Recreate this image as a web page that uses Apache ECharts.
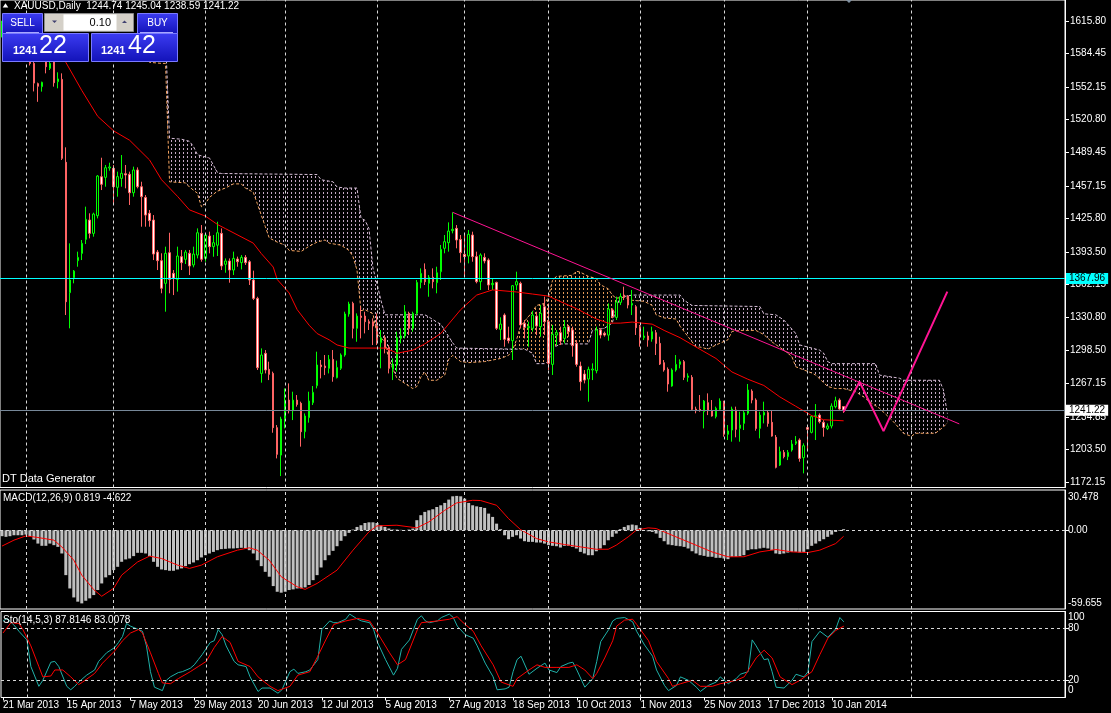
<!DOCTYPE html>
<html><head><meta charset="utf-8">
<script src="https://cdn.jsdelivr.net/npm/echarts@6.0.0/dist/echarts.min.js"></script>
<style>html,body{margin:0;padding:0;background:#000;overflow:hidden}#c{width:1111px;height:713px}</style>
</head><body><div id="c"></div>
<script>
// ---- data ----
const tickLabels = ['21 Mar 2013','15 Apr 2013','7 May 2013','29 May 2013','20 Jun 2013','12 Jul 2013','5 Aug 2013','27 Aug 2013','18 Sep 2013','10 Oct 2013','1 Nov 2013','25 Nov 2013','17 Dec 2013','10 Jan 2014'];
const priceTicks = [1615.80,1584.45,1552.15,1520.80,1489.45,1457.15,1425.80,1393.50,1362.15,1330.80,1298.50,1267.15,1234.85,1203.50,1172.15];
const macdTicks = [30.478,0,-59.655];
const stochInnerTicks = [80,20];
const stochEdgeTicks = [100,0];
// [open, high, low, close]
const candles = [
[1606,1616,1600,1613],[1613,1618,1603,1607],[1607,1615,1598,1604],[1604,1608,1590,1596],[1596,1608,1592,1606],
[1606,1608,1592,1596],[1596,1603,1585,1598],[1598,1601,1573,1575],[1575,1579,1548,1556],[1555.5,1556.5,1538,1553],
[1552.6,1557.4,1547.8,1556.8],[1582,1586,1565.4,1571.8],[1570.2,1576.6,1568.6,1575],[1586,1588,1552.6,1556.4],[1557.4,1566.4,1551,1560],
[1559.6,1565.4,1482,1483.6],[1479.8,1494.2,1332.8,1345.6],[1354.3,1401.8,1320,1366.5],[1368.7,1376.1,1363.3,1375.1],[1385.1,1393.8,1379.3,1388.3],
[1392.1,1405,1385.7,1401.8],[1405.6,1437.1,1401.1,1424.9],[1424.2,1430.7,1406.6,1411.4],[1411.4,1431.3,1408.2,1430],[1428.4,1467.5,1425.8,1466.6],
[1465.9,1484.2,1453.1,1458.6],[1465.3,1477.2,1456.3,1474.6],[1474.3,1479.4,1471.7,1475.3],[1474,1477.2,1438.7,1456.3],[1455.7,1470.8,1446.7,1466],
[1464.3,1486.8,1456.3,1469.2],[1468.8,1477.2,1454.7,1467.6],[1468.2,1470.8,1438.7,1450.5],[1450.5,1475.6,1446.7,1472.4],[1472.4,1474.9,1454.7,1456.3],
[1456.3,1461.1,1417.8,1446.7],[1446,1448.3,1417.8,1429],[1430.7,1433.9,1417.8,1423.6],[1424.2,1429,1385.7,1391.5],[1393.4,1395.4,1376.1,1385.1],
[1385.1,1392.2,1353.7,1358.5],[1363.3,1398.6,1336,1392.2],[1392.8,1412,1353.7,1367.1],[1372.9,1376.1,1352,1368.1],[1367.1,1398.6,1355.3,1389.6],
[1389,1395.4,1376.1,1383.2],[1386.4,1395.4,1381.9,1393.4],[1392.2,1395.4,1371.3,1380],[1381,1398.6,1378.7,1391.5],[1390.5,1416.2,1387.3,1412],
[1411.4,1419.4,1384.1,1386.4],[1387.3,1411.4,1384.1,1409.8],[1408.8,1413,1392.2,1398.6],[1398.6,1409.8,1388.9,1402.4],[1400,1422.6,1389.6,1412],
[1411.4,1416.2,1376.1,1380],[1381.6,1387.3,1373.5,1384.8],[1384.8,1387.3,1363.9,1376.1],[1376.1,1393.8,1371.3,1387.3],[1386.7,1389,1379.3,1384.1],
[1383.2,1390.5,1376.7,1388.3],[1388.3,1390.5,1381,1383.2],[1384.1,1385.7,1361.7,1366.5],[1366.5,1375.5,1347.2,1348.8],[1348.8,1350.4,1279.9,1282.1],
[1276.6,1300.7,1267.7,1294.3],[1295.9,1299.1,1276.6,1279.9],[1280.5,1287.9,1270.2,1275.7],[1276.6,1278.3,1219.5,1224.4],[1224.4,1226.9,1194.8,1198.7],
[1198,1234.9,1177.8,1232.7],[1233.3,1262.2,1223.7,1250.9],[1250.9,1267,1238.1,1240.7],[1240.7,1259,1231.7,1250.9],[1250.9,1255.8,1244.6,1246.8],
[1247.8,1249.4,1206.1,1220.5],[1220.5,1238.1,1214.1,1235.6],[1234,1259,1229.2,1250],[1248.4,1264.5,1246.2,1258.4],[1264.8,1297.5,1262.2,1284.7],
[1284.7,1289.5,1271.8,1283.1],[1283.7,1294.3,1275,1282.1],[1281.5,1294.3,1276.6,1290.1],[1290.1,1299.1,1268.6,1273.4],[1272.5,1288.9,1271.8,1282.4],
[1281.5,1295.9,1279.9,1294.3],[1294.3,1336,1292.7,1333.8],[1333.8,1345.6,1331.2,1343.4],[1344,1345.6,1310.3,1320],[1320,1334.4,1307.1,1331.8],
[1331.8,1340.8,1310.3,1330.5],[1331.8,1336,1315.1,1326.4],[1326.4,1328.6,1318.4,1324.8],[1326.4,1329.6,1303.9,1322.2],[1322.2,1334.4,1303.9,1308.1],
[1306.2,1318.4,1281.5,1311],[1311,1313.5,1295.9,1300.7],[1301.7,1303.9,1276.6,1281.5],[1280.5,1291.1,1270.2,1285.6],[1284.7,1316.7,1278.3,1311.3],
[1310.3,1320,1305.5,1312.6],[1312.6,1342.4,1310.3,1336],[1334.4,1336,1313.5,1320],[1320,1336,1316.7,1334.4],[1334.4,1366.5,1332.8,1364.2],
[1364.2,1377.7,1358.5,1372.9],[1376.7,1382.5,1361.7,1364.9],[1363.3,1371.3,1350.4,1369.1],[1369.1,1377.7,1358.5,1364.9],[1363.9,1379.3,1353.7,1373.5],
[1374.5,1400.2,1366.5,1396],[1397,1409.8,1392.2,1403.4],[1402.4,1422,1393.8,1413.6],[1414,1431.6,1411.4,1415.3],[1416.2,1419.4,1397,1405],
[1405.6,1409.8,1383.2,1392.8],[1391.2,1411.4,1371.3,1389],[1389.6,1414.6,1382.5,1410.5],[1409.8,1413,1384.1,1389],[1389,1393.8,1363.3,1364.9],
[1364.9,1392.2,1356.9,1390.6],[1388.3,1392.2,1382.5,1384.8],[1385.7,1387.3,1356.9,1361.7],[1362,1368.1,1356.9,1363.3],[1364.2,1364.9,1318.4,1320],
[1319,1330.6,1308.7,1324.1],[1332.8,1334.4,1302.3,1309.4],[1310.7,1321.6,1305.5,1308.1],[1308.1,1361.7,1289.5,1361],[1361.7,1374.5,1356.9,1364.9],
[1363.3,1364.9,1320,1323.2],[1324.8,1328,1310.3,1320.9],[1320.6,1326.4,1302.3,1321.6],[1320,1336.7,1316.8,1332.8],[1331.8,1336,1313.5,1322.2],
[1321.6,1342.4,1311.9,1334.4],[1340.8,1350.5,1313.5,1326.4],[1326.4,1344,1279.9,1286.3],[1285.3,1323.2,1275.1,1314.2],[1313.5,1318.4,1303.9,1315.8],
[1315.8,1321.6,1303.9,1307.8],[1310.3,1328,1305.5,1320.9],[1321.6,1323.2,1311.9,1316.8],[1318.4,1321.6,1292.7,1303.3],[1305.5,1308.7,1283.1,1285.3],
[1283.7,1287.9,1260,1268.6],[1276,1279.9,1267,1270.2],[1271.2,1283.1,1249.4,1280.5],[1279.9,1286.3,1270.2,1280.8],[1279.2,1321.6,1276.7,1318.4],
[1318.4,1320,1310.3,1313.5],[1315.2,1316.8,1312,1313.5],[1313.5,1344,1308.1,1338.6],[1337.6,1339.2,1329.6,1331.2],[1330.5,1350.5,1328,1345.3],
[1345,1353.7,1342.4,1350.5],[1352,1360.1,1347.2,1349.8],[1351.1,1352,1339.2,1342.4],[1342.4,1356.9,1332.8,1344],[1340.8,1342.4,1313.6,1320.6],
[1321.6,1323.2,1302.3,1312],[1311,1321.6,1308.7,1312.6],[1312.6,1316.8,1302.3,1308.7],[1309.7,1321.6,1307.1,1316.8],[1315.8,1318.4,1294.3,1305.5],
[1305.5,1311.9,1284.7,1285.6],[1286.9,1289.5,1278.3,1279.9],[1280.5,1282.4,1259,1266.4],[1264.5,1281.5,1263.8,1279.9],[1279.9,1294.3,1278.3,1285.3],
[1285.3,1290.1,1281.5,1287.9],[1287.9,1289.5,1270.2,1272.8],[1272.8,1276.7,1268.6,1274.1],[1272.8,1275,1240.7,1242],[1242.3,1244.6,1238.2,1240.7],
[1242,1255.8,1239.8,1240.7],[1239.8,1251,1223.7,1250],[1248.4,1257.4,1236.5,1240.7],[1240.4,1251,1235,1235.6],[1235,1244.6,1233.3,1243],
[1242,1252.6,1240.7,1250],[1248.8,1250.3,1215.7,1218],[1218,1226.9,1212.5,1221.2],[1222.1,1244.6,1210.9,1242.3],[1241.4,1244.6,1215.1,1222.8],
[1223.7,1239.8,1210.9,1226.9],[1228.5,1241.4,1222.1,1238.8],[1238.2,1266.4,1236.5,1260.6],[1259.6,1261.3,1247.8,1251],[1251,1252.6,1221.5,1223.7],
[1223.7,1239.8,1214.1,1236.5],[1236.5,1249.4,1228.5,1239.1],[1238.8,1241.4,1225.3,1228.5],[1229.5,1241.4,1215.7,1216.3],[1215.1,1217.3,1185.2,1186.2],
[1188.4,1206.1,1187.5,1201.3],[1200.6,1202.9,1194.8,1196.5],[1196.5,1202.9,1193.2,1200.6],[1202.9,1212.5,1201.3,1208.6],[1209.3,1216.3,1207.7,1210.9],
[1212.5,1214.1,1191.6,1194.8],[1195.5,1209.3,1180.4,1207],[1224.5,1225,1203,1222.8],[1219.9,1236.5,1218.9,1235],[1235,1247.1,1212.5,1235.9],
[1236.5,1238.2,1228.5,1230.1],[1229.5,1231.7,1215.7,1224.6],[1223.7,1228.5,1222.1,1226],[1226,1247.8,1223.7,1245.2],[1244.6,1254.2,1243,1250.3],
[1251,1252.6,1241.4,1242.3],[1244.74,1245.04,1238.59,1241.22]
];
// red moving line: [bar, price]
const maLine = [[14,1590],[16,1576],[20,1549],[24,1524],[28,1510],[32,1501],[37,1482],[40,1463],[44,1447],[47,1434],[51,1428],[54,1420],[56,1416],[63,1402],[65,1392],[68,1379],[69,1367],[72,1354],[74,1338],[77,1323],[79,1315],[82,1309],[84,1304],[86,1302],[87,1301],[96,1301],[98,1298],[99,1296],[103,1299],[104,1301],[106,1305],[110,1315],[115,1338],[119,1352],[123,1357],[129,1355],[133,1353],[137,1351],[141,1344],[144,1339],[149,1329],[152,1325],[155,1325],[158,1326],[163,1324],[166,1318],[170,1311],[174,1302],[179,1291],[183,1278],[187,1271],[191,1265],[195,1254],[199,1245],[203,1236],[206,1232],[211,1231]];
const spanA = [[33,1590],[37,1576],[40,1575],[41,1575],[42,1461],[46,1460],[47,1456],[49,1450],[50,1437],[51,1440],[52,1446],[54,1452],[56,1455],[58,1459],[60,1459],[61,1455],[63,1451],[64,1440],[66,1418],[67,1407],[69,1403],[71,1400],[72,1395],[75,1394],[77,1399],[79,1403],[81,1405],[82,1402],[85,1400],[87,1395],[88,1389],[89,1376],[90,1337],[91,1338],[93,1334],[94,1315],[96,1307],[97,1290],[98,1281],[99,1272],[101,1267],[103,1262],[104,1264],[105,1273],[106,1278],[107,1270],[109,1270],[111,1275],[112,1290],[113,1294],[115,1288],[117,1287],[121,1288],[125,1291],[127,1294],[128,1299],[129,1309],[130,1322],[133,1336],[134,1342],[136,1344],[137,1350],[138,1366],[139,1370],[143,1371],[144,1375],[145,1374],[147,1370],[149,1368],[150,1362],[152,1358],[153,1352],[154,1349],[156,1350],[158,1347],[161,1346],[163,1342],[164,1333],[166,1330],[169,1329],[170,1322],[172,1312],[174,1302],[175,1302],[177,1300],[179,1304],[182,1309],[183,1317],[185,1318],[189,1318],[191,1314],[193,1307],[196,1299],[198,1293],[199,1283],[203,1277],[204,1275],[207,1264],[209,1262],[211,1262],[214,1259],[216,1254],[218,1248],[220,1243],[223,1232],[224,1228],[226,1219],[228,1216],[229,1219],[234,1219],[236,1225],[237,1229]];
const spanB = [[33,1600],[41,1600],[42,1503],[45,1502],[47,1500],[48,1495],[49,1487],[52,1484],[53,1477],[54,1470],[55,1469],[79,1468],[80,1463],[83,1461],[84,1456],[86,1455],[89,1455],[90,1426],[91,1424],[92,1416],[93,1378],[94,1363],[95,1347],[96,1333],[106,1333],[107,1331],[109,1326],[110,1324],[112,1312],[113,1306],[114,1301],[128,1300],[131,1300],[133,1296],[134,1286],[136,1286],[137,1288],[138,1301],[140,1305],[147,1305],[148,1318],[151,1320],[153,1325],[154,1340],[155,1350],[158,1352],[170,1352],[171,1347],[173,1342],[190,1341],[191,1334],[194,1333],[196,1328],[199,1315],[200,1304],[205,1299],[206,1296],[207,1288],[208,1286],[219,1286],[220,1275],[225,1272],[226,1270],[235,1270],[236,1261],[237,1238]];
const macdHist = [
-4.5,-5.0,-4.5,-3.8,-3.8,-3.8,-3.3,-4.5,-7.0,-10.1,
-11.8,-11.8,-10.1,-11.3,-12.6,-17.6,-34.0,-44.1,-50.9,-54.1,
-55.4,-53.4,-51.6,-49.1,-45.3,-40.3,-35.7,-34.0,-30.2,-27.7,
-23.9,-22.1,-21.4,-19.6,-17.1,-17.1,-17.6,-19.6,-23.9,-27.7,
-29.7,-30.2,-30.7,-30.7,-29.7,-28.9,-27.2,-25.7,-24.4,-22.7,
-20.6,-18.9,-17.6,-16.4,-15.1,-14.3,-14.1,-13.8,-13.8,-13.6,
-13.3,-13.6,-15.1,-17.6,-22.7,-27.2,-31.5,-35.2,-42.3,-46.6,
-47.3,-46.6,-45.3,-44.8,-44.1,-44.1,-43.3,-41.5,-37.8,-34.0,
-28.2,-22.7,-18.9,-15.6,-12.1,-8.0,-4.5,-2.0,0.5,2.5,
3.8,5.5,6.0,6.0,5.5,3.8,2.5,1.3,0.5,0.5,
0.3,0.2,0.5,1.3,7.6,11.4,13.9,15.1,15.9,17.6,
18.9,20.7,23.2,25.7,26.0,25.7,23.9,20.7,18.9,18.1,
17.6,16.9,12.6,10.1,5.0,0.8,-3.8,-6.8,-5.0,-3.8,
-6.3,-8.3,-8.8,-8.8,-9.3,-9.3,-10.1,-11.3,-11.8,-12.1,
-13.1,-11.8,-11.8,-12.6,-13.8,-16.4,-17.6,-18.9,-18.9,-15.9,
-13.8,-11.3,-7.6,-5.0,-2.5,0.8,2.5,3.8,4.3,3.8,
1.8,-0.1,-0.8,-1.3,-2.5,-5.8,-8.3,-10.8,-11.3,-11.8,
-12.1,-12.6,-13.8,-15.9,-17.6,-18.9,-19.4,-20.1,-20.1,-20.9,
-20.9,-21.4,-21.9,-20.1,-20.1,-19.6,-18.9,-15.1,-14.4,-14.4,
-13.8,-13.3,-13.8,-15.1,-17.6,-18.1,-17.6,-16.9,-16.4,-16.4,
-16.9,-16.4,-14.4,-11.8,-10.1,-8.3,-6.8,-5.0,-3.3,-1.3,
-0.5,0.82];
const macdSignal = [[0,-12],[3,-7.5],[6,-4.3],[9,-5.5],[13,-7.5],[15,-12.6],[18,-22.7],[20,-34],[23,-45],[25,-50],[28,-44],[30,-34],[34,-24],[37,-19.6],[40,-21.4],[44,-26.4],[47,-28.9],[50,-26.4],[54,-20.1],[59,-15.1],[62,-13.3],[64,-15.1],[67,-22.7],[70,-35.2],[74,-42.8],[76,-44.8],[79,-40.3],[84,-30.2],[88,-15.1],[92,-1.2],[94,3.3],[99,3.8],[104,1.8],[107,6.3],[111,15.1],[114,20.7],[118,22.7],[120,22.5],[124,18.9],[127,8.8],[130,0.5],[134,-6.3],[137,-8.8],[141,-10.8],[145,-12.6],[149,-14.4],[152,-14.4],[154,-11.3],[157,-5],[159,0],[162,1.8],[164,1.3],[167,-2.5],[170,-6.3],[174,-11.3],[178,-16.4],[182,-20.1],[186,-20.1],[190,-16.4],[194,-14.6],[198,-16.4],[202,-16.9],[205,-15.1],[209,-10.1],[211,-4.6]];
const stochMain = [[0,89],[1,92],[3,83],[4,77],[6,67],[7,36],[9,13],[10,20],[12,41],[13,42],[14,36],[16,13],[17,9],[18,13],[19,18],[21,26],[23,32],[24,42],[26,52],[28,58],[29,64],[30,71],[31,86],[32,83],[34,79],[35,77],[36,60],[37,30],[38,12],[40,8],[41,20],[42,24],[44,29],[45,30],[47,34],[48,38],[49,44],[50,50],[52,64],[53,66],[54,79],[55,73],[56,60],[58,42],[59,38],[61,36],[62,24],[64,7],[65,11],[67,11],[69,5],[70,9],[72,30],[73,33],[74,28],[76,30],[77,32],[79,44],[80,79],[82,89],[83,87],[84,87],[86,91],[87,97],[89,91],[90,89],[92,87],[93,79],[94,64],[96,44],[98,26],[99,34],[100,56],[102,67],[103,79],[104,91],[105,95],[106,89],[107,87],[109,89],[110,93],[112,97],[113,93],[114,83],[116,73],[118,69],[119,60],[121,40],[123,24],[124,9],[126,10],[127,12],[128,30],[129,44],[130,48],[132,27],[134,34],[136,40],[137,32],[139,29],[140,36],[142,40],[143,41],[144,32],[146,12],[148,22],[149,42],[150,65],[152,79],[153,89],[154,92],[156,93],[158,88],[159,77],[161,61],[163,48],[164,32],[166,14],[167,8],[169,14],[170,24],[172,20],[174,12],[175,7],[177,14],[179,18],[180,24],[182,16],[184,22],[185,27],[187,30],[188,67],[189,60],[191,44],[192,45],[193,30],[194,12],[196,11],[198,20],[199,27],[201,24],[202,30],[203,65],[205,77],[207,70],[209,80],[210,93],[211,88]];
const stochSignal = [[0,75],[2,87],[4,86],[5,79],[7,60],[9,36],[10,24],[12,25],[13,32],[15,32],[17,24],[19,15],[20,18],[23,28],[25,40],[28,54],[30,66],[32,75],[34,79],[35,75],[37,52],[39,28],[40,17],[42,16],[44,22],[47,30],[49,36],[51,42],[53,58],[55,71],[57,64],[59,42],[62,36],[64,24],[67,13],[69,8],[72,13],[74,26],[77,30],[79,48],[81,67],[83,85],[86,89],[89,92],[92,89],[94,75],[97,52],[99,38],[101,44],[104,79],[105,87],[109,89],[112,91],[114,94],[115,89],[118,77],[120,60],[123,38],[125,18],[128,13],[129,22],[132,32],[134,38],[136,35],[139,35],[142,35],[144,38],[146,32],[148,22],[149,28],[151,46],[153,66],[154,83],[156,90],[158,91],[159,85],[162,66],[164,42],[167,22],[168,13],[170,16],[173,20],[175,13],[178,13],[180,16],[184,20],[186,24],[189,46],[191,55],[193,46],[195,24],[198,15],[200,20],[203,30],[205,50],[207,69],[209,78],[211,83]];
const trendLine = [[113,1431.6],[240,1228]];
const projection = [[211,1239.7],[215,1268.6],[221,1221.1],[237,1355.3]];
const vGrid = [6,28,51,71,94,116,137,160,181,202,228];
const levelPrice = 1367.96;
const bidPrice = 1241.22;

// ---- chart ----
const N = 267;
const cats = Array.from({length: N}, (_, k) => String(k));
const FONT = 'Liberation Sans, Arial, sans-serif';

function hatch(color) {
  const c = document.createElement('canvas');
  c.width = 4; c.height = 4;
  const g = c.getContext('2d');
  g.fillStyle = color;
  g.fillRect(3, 0, 1, 2);
  return {image: c, repeat: 'repeat'};
}
function cloudSeries(a, b, color) {
  return {
    type: 'custom', xAxisIndex: 0, yAxisIndex: 0, silent: true, clip: true, z: 1,
    data: [[0, 1400]],
    renderItem: (params, api) => {
      const pts = [];
      a.forEach(p => pts.push(api.coord(p)));
      for (let j = b.length - 1; j >= 0; j--) pts.push(api.coord(b[j]));
      return {type: 'polygon', shape: {points: pts}, style: {fill: hatch(color)}};
    }
  };
}
const inRange = (arr, lo, hi) => arr.filter(p => p[0] >= lo && p[0] <= hi);

const isTick = idx => idx % 16 === 0 && idx / 16 < tickLabels.length;
const vLineData = vGrid.map(k => ({xAxis: k}));
const vMark = {silent: true, symbol: ['none', 'none'], label: {show: false},
  lineStyle: {color: '#d8d8d8', type: [3, 3], width: 1}, data: vLineData};

const xAxes = [0, 1, 2].map(g => ({
  type: 'category', gridIndex: g, data: cats, boundaryGap: true,
  axisLine: {show: false, onZero: false}, splitLine: {show: false},
  axisTick: {show: g === 2, interval: isTick, alignWithLabel: true, length: 3, lineStyle: {color: '#fff'}},
  axisLabel: {show: g === 2, interval: isTick, formatter: (v, idx) => tickLabels[idx / 16] || '',
    align: 'left', color: '#fff', fontSize: 10, fontFamily: FONT, margin: 3}
}));

const yBase = {type: 'value', position: 'right', splitLine: {show: false},
  axisLine: {show: true, onZero: false, lineStyle: {color: '#fff'}}};
const edgeRich = (dn, up) => ({dn: {padding: [dn, 0, 0, 0], color: '#fff', fontSize: 10}, up: {padding: [0, 0, up, 0], color: '#fff', fontSize: 10}});

const option = {
  animation: false,
  backgroundColor: '#000',
  textStyle: {fontFamily: FONT},
  grid: [
    {left: -3, width: 1068, top: 0, height: 487.5, show: true, borderColor: '#fff', borderWidth: 1},
    {left: -3, width: 1068, top: 490, height: 119, show: true, borderColor: '#fff', borderWidth: 1},
    {left: -3, width: 1068, top: 611.5, height: 86, show: true, borderColor: '#fff', borderWidth: 1}
  ],
  xAxis: xAxes,
  yAxis: [
    Object.assign({}, yBase, {gridIndex: 0, min: 1166.8, max: 1636.0,
      axisTick: {show: true, customValues: priceTicks, length: 4, lineStyle: {color: '#fff'}},
      axisLabel: {customValues: priceTicks, formatter: v => v.toFixed(2), color: '#fff', fontSize: 10, margin: 5}}),
    Object.assign({}, yBase, {gridIndex: 1, min: -59.655, max: 30.478,
      axisTick: {show: true, customValues: [0], length: 4, lineStyle: {color: '#fff'}},
      axisLabel: {customValues: macdTicks, color: '#fff', fontSize: 10, margin: 3, showMinLabel: true, showMaxLabel: true,
        formatter: v => v > 30 ? '{dn|30.478}' : (v < -59 ? '{up|-59.655}' : '0.00'),
        rich: edgeRich(14, 12)}}),
    Object.assign({}, yBase, {gridIndex: 2, min: 0, max: 100,
      axisTick: {show: true, customValues: stochInnerTicks, length: 4, lineStyle: {color: '#fff'}},
      axisLabel: {customValues: stochInnerTicks, color: '#fff', fontSize: 10, margin: 3}}),
    Object.assign({}, yBase, {gridIndex: 2, min: 0, max: 100, axisLine: {show: false, onZero: false},
      axisTick: {show: false},
      axisLabel: {customValues: stochEdgeTicks, color: '#fff', fontSize: 10, margin: 3, showMinLabel: true, showMaxLabel: true,
        formatter: v => v === 100 ? '{dn|100}' : '{up|0}', rich: edgeRich(12, 15)}})
  ],
  series: [
    cloudSeries(spanA, spanB, '#c4a8c4'),
    cloudSeries(inRange(spanA, 128, 158), inRange(spanB, 128, 158), '#e09858'),
    {type: 'line', xAxisIndex: 0, yAxisIndex: 0, data: spanA, symbol: 'none', silent: true, z: 2,
      lineStyle: {color: '#f4a460', width: 1, type: [3, 2]}},
    {type: 'line', xAxisIndex: 0, yAxisIndex: 0, data: spanB, symbol: 'none', silent: true, z: 2,
      lineStyle: {color: '#d8bfd8', width: 1, type: [3, 2]}},
    {type: 'candlestick', xAxisIndex: 0, yAxisIndex: 0, silent: true, z: 3, barWidth: 2,
      data: candles.map(r => [r[0], r[3], r[2], r[1]]),
      itemStyle: {color: '#000000', color0: '#ffffff', borderColor: '#00ff00', borderColor0: '#ff6464', borderWidth: 1},
      markLine: vMark},
    {type: 'line', xAxisIndex: 0, yAxisIndex: 0, data: maLine, symbol: 'none', silent: true, z: 4,
      lineStyle: {color: '#ff0000', width: 1},
      markLine: {silent: true, symbol: ['none', 'none'], data: [
        {yAxis: levelPrice, lineStyle: {color: '#00ffff', width: 1, type: 'solid'},
          label: {show: true, position: 'end', distance: 1, formatter: '1367.96', backgroundColor: '#00ffff', color: '#000', fontSize: 10, padding: [1, 3, 0, 3]}},
        {yAxis: bidPrice, lineStyle: {color: '#778899', width: 1, type: 'solid'},
          label: {show: true, position: 'end', distance: 1, formatter: '1241.22', backgroundColor: '#ffffff', color: '#000', fontSize: 10, padding: [1, 3, 0, 3]}}
      ]}},
    {type: 'line', xAxisIndex: 0, yAxisIndex: 0, data: trendLine, symbol: 'none', silent: true, z: 5,
      lineStyle: {color: '#ff1493', width: 1}},
    {type: 'line', xAxisIndex: 0, yAxisIndex: 0, data: projection, symbol: 'none', silent: true, z: 5,
      lineStyle: {color: '#ff1493', width: 2}},
    {type: 'bar', xAxisIndex: 1, yAxisIndex: 1, data: macdHist, barWidth: 3, silent: true, z: 3,
      itemStyle: {color: '#c0c0c0'},
      markLine: {silent: true, symbol: ['none', 'none'], label: {show: false},
        lineStyle: {color: '#d8d8d8', type: [3, 3], width: 1},
        data: vLineData.concat([{yAxis: 0}])}},
    {type: 'line', xAxisIndex: 1, yAxisIndex: 1, data: macdSignal, symbol: 'none', silent: true, z: 4,
      lineStyle: {color: '#ff0000', width: 1}},
    {type: 'line', xAxisIndex: 2, yAxisIndex: 2, data: stochMain, symbol: 'none', silent: true, z: 4,
      lineStyle: {color: '#20b2aa', width: 1},
      markLine: {silent: true, symbol: ['none', 'none'], label: {show: false},
        lineStyle: {color: '#d8d8d8', type: [3, 3], width: 1},
        data: vLineData.concat([{yAxis: 80}, {yAxis: 20}])}},
    {type: 'line', xAxisIndex: 2, yAxisIndex: 2, data: stochSignal, symbol: 'none', silent: true, z: 4,
      lineStyle: {color: '#ff0000', width: 1}}
  ],
  graphic: (function () {
    const blue = new echarts.graphic.LinearGradient(0, 0, 0, 1, [{offset: 0, color: '#3c3cf2'}, {offset: 1, color: '#1212b8'}]);
    const txt = (x, y, s, size, extra) => Object.assign({type: 'text', x: x, y: y, z: 101,
      style: Object.assign({text: s, fill: '#fff', fontSize: size, fontFamily: FONT, verticalAlign: 'middle'}, extra || {})});
    const box = (x, y, w, h) => ({type: 'rect', z: 100, shape: {x: x, y: y, width: w, height: h},
      style: {fill: blue, stroke: '#7a7aff', lineWidth: 1}});
    return [
      {type: 'polygon', z: 100, shape: {points: [[2.7, 7.5], [5.5, 3.3], [8.3, 7.5]]}, style: {fill: '#fff'}},
      txt(14, 6, 'XAUUSD,Daily  1244.74 1245.04 1238.59 1241.22', 10),
      {type: 'polygon', z: 100, shape: {points: [[846, 0], [852, 0], [849, 3]]}, style: {fill: '#8090a0'}},
      box(2.5, 13.5, 40, 20),
      {type: 'line', z: 101, shape: {x1: 6, y1: 32.5, x2: 39, y2: 32.5}, style: {stroke: '#a8a8ff', lineWidth: 1}},
      txt(22.5, 23, 'SELL', 10, {align: 'center'}),
      {type: 'rect', z: 100, shape: {x: 44.5, y: 13.5, width: 89, height: 18}, style: {fill: '#d4d0c8', stroke: '#8a8a8a', lineWidth: 1}},
      {type: 'rect', z: 101, shape: {x: 63.5, y: 14.5, width: 53, height: 16}, style: {fill: '#ffffff'}},
      {type: 'polygon', z: 101, shape: {points: [[52, 20.5], [57, 20.5], [54.5, 23]]}, style: {fill: '#404070'}},
      {type: 'polygon', z: 101, shape: {points: [[122, 23], [127, 23], [124.5, 20.5]]}, style: {fill: '#404070'}},
      txt(111, 22.5, '0.10', 11, {align: 'right', fill: '#000'}),
      box(137.5, 13.5, 40, 20),
      {type: 'line', z: 101, shape: {x1: 140, y1: 32.5, x2: 173, y2: 32.5}, style: {stroke: '#a8a8ff', lineWidth: 1}},
      txt(157.5, 23, 'BUY', 10, {align: 'center'}),
      box(2.5, 33.5, 86, 28),
      box(91.5, 33.5, 86, 28),
      txt(13, 51, '1241', 11, {fontWeight: 'bold'}),
      txt(39, 46, '22', 25),
      txt(101, 51, '1241', 11, {fontWeight: 'bold'}),
      txt(128, 46, '42', 25),
      txt(2, 479, 'DT Data Generator', 11),
      txt(3, 498, 'MACD(12,26,9) 0.819 -4.622', 10),
      txt(3, 620, 'Sto(14,5,3) 87.8146 83.0078', 10)
    ];
  })()
};

const chart = echarts.init(document.getElementById('c'), null, {renderer: 'canvas'});
chart.setOption(option);
</script>
</body></html>
